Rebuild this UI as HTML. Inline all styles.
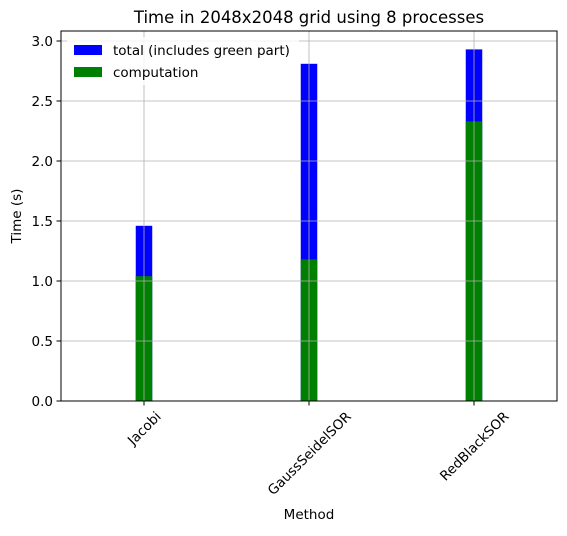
<!DOCTYPE html>
<html><head><meta charset="utf-8"><style>
body{margin:0;background:#fff;}
svg text{font-family:"DejaVu Sans","Liberation Sans",sans-serif;fill:#000;}
</style></head><body>
<svg id="c" width="567" height="531" xmlns="http://www.w3.org/2000/svg"></svg>
<script>
const categories=["Jacobi","GaussSeidelSOR","RedBlackSOR"];
const totalValues=[1.46,2.81,2.93];
const compValues=[1.04,1.18,2.33];
const yTicks=[0.0,0.5,1.0,1.5,2.0,2.5,3.0];
const svg=document.getElementById('c');
const NS='http://www.w3.org/2000/svg';
const L=61,R=557,T=31,B=401;
const x=i=>L+(i+0.503)*(R-L)/3.006;
const y=v=>B-v*120;
function mk(t,a,txt){const e=document.createElementNS(NS,t);for(const k in a)e.setAttribute(k,a[k]);if(txt!==undefined)e.textContent=txt;svg.appendChild(e);return e;}
const gw=(R-L)/3.006*0.1;
categories.forEach((c,i)=>{
const b=mk('rect',{x:x(i)-gw/2,y:y(totalValues[i]),width:gw,height:B-y(totalValues[i]),fill:'#0000ff'});


const g=mk('rect',{x:x(i)-gw/2,y:y(compValues[i]),width:gw,height:B-y(compValues[i]),fill:'#008000'});


});
yTicks.forEach(v=>{const g=mk('line',{x1:L,x2:R,y1:y(v),y2:y(v),stroke:'#b0b0b0','stroke-width':0.8});

});
categories.forEach((c,i)=>{const g=mk('line',{x1:x(i),x2:x(i),y1:T,y2:B,stroke:'#b0b0b0','stroke-width':0.8});

});
const f=mk('rect',{x:L,y:T,width:R-L,height:B-T,fill:'none',stroke:'#000','stroke-width':1});


yTicks.forEach(v=>{mk('line',{x1:L-4.5,x2:L,y1:y(v),y2:y(v),stroke:'#000','stroke-width':1});
const t=mk('text',{x:L-8,y:y(v)+5,'text-anchor':'end','font-size':13.5},v.toFixed(1));

});
categories.forEach((c,i)=>{mk('line',{x1:x(i),x2:x(i),y1:B,y2:B+4.5,stroke:'#000','stroke-width':1});
const t=mk('text',{x:x(i),y:0,'text-anchor':'middle','font-size':13.5},c);


const len=t.getComputedTextLength();
const cy=B+8+(len*0.7071+13.5*0.7071)/2;
t.setAttribute('y',cy+5);
t.setAttribute('transform',`rotate(-45 ${x(i)} ${cy})`);
});
const tt=mk('text',{x:(L+R)/2,y:23,'text-anchor':'middle','font-size':16.5},'Time in 2048x2048 grid using 8 processes');


const xt=mk('text',{x:(L+R)/2,y:519,'text-anchor':'middle','font-size':13.5},'Method');


const yt=mk('text',{x:21,y:216,'text-anchor':'middle','font-size':13.5,transform:'rotate(-90 21 216)'},'Time (s)');


const lg=mk('rect',{x:67,y:37,width:232,height:48,fill:'#fff','fill-opacity':0.8,stroke:'none'});


[['#0000ff','total (includes green part)',45],['#008000','computation',67]].forEach(([col,lab,yy])=>{
const r=mk('rect',{x:74,y:yy,width:28,height:10,fill:col});


const t=mk('text',{x:113,y:yy+10,'font-size':13.5},lab);


});
</script>
</body></html>
